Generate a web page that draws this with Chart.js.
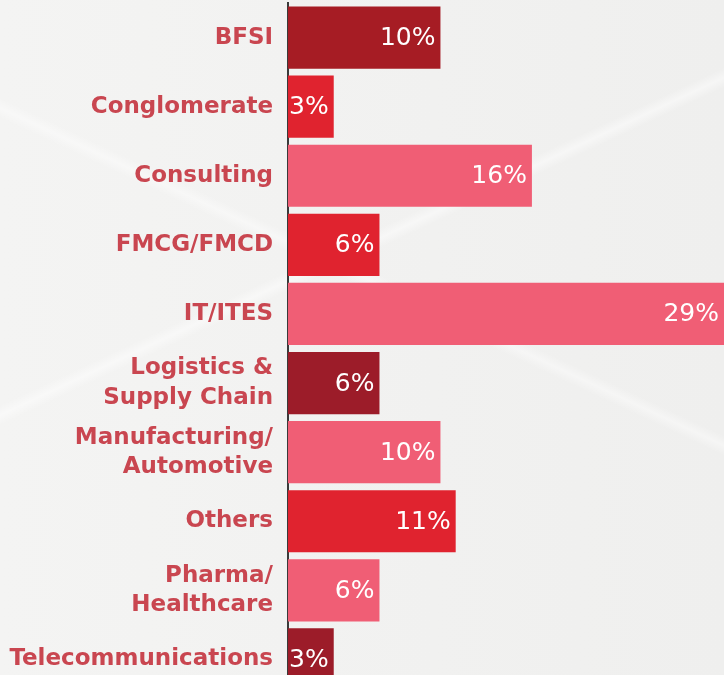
<!DOCTYPE html>
<html>
<head>
<meta charset="utf-8">
<script src="https://cdn.jsdelivr.net/npm/chart.js@4"></script>
<style>
  html, body { margin: 0; padding: 0; overflow: hidden; }
  body {
    width: 724px; height: 675px;
    background:
      linear-gradient(155deg, rgba(255,255,255,0) 40%, rgba(255,255,255,0.45) 41%, rgba(255,255,255,0) 42%),
      linear-gradient(25deg, rgba(255,255,255,0) 55%, rgba(255,255,255,0.4) 56%, rgba(255,255,255,0) 57%),
      linear-gradient(90deg, #f4f4f3 0%, #efefee 100%);
  }
  .wrap { position: relative; width: 724px; height: 694px; }
</style>
</head>
<body>
<div class="wrap"><canvas id="chart"></canvas></div>
<script>
const categories = [
  'BFSI', 'Conglomerate', 'Consulting', 'FMCG/FMCD', 'IT/ITES',
  ['Logistics &', 'Supply Chain'], ['Manufacturing/', 'Automotive'],
  'Others', ['Pharma/', 'Healthcare'], 'Telecommunications'
];
const shares = [10, 3, 16, 6, 29, 6, 10, 11, 6, 3];
const barColors = [
  '#a61c24', '#e0232f', '#f05e75', '#e0232f', '#f05e75',
  '#9c1c29', '#f05e75', '#e0232f', '#f05e75', '#9c1c29'
];

const valueLabels = {
  id: 'valueLabels',
  afterDatasetsDraw(chart) {
    const ctx = chart.ctx;
    const area = chart.chartArea;
    const meta = chart.getDatasetMeta(0);
    ctx.save();
    ctx.fillStyle = '#ffffff';
    ctx.font = '25px "DejaVu Sans", sans-serif';
    ctx.textAlign = 'right';
    ctx.textBaseline = 'middle';
    meta.data.forEach((bar, i) => {
      const x = Math.min(bar.x, area.right) - 5;
      ctx.fillText(shares[i] + '%', x, bar.y + 1);
    });
    ctx.restore();
  }
};

new Chart(document.getElementById('chart'), {
  type: 'bar',
  data: {
    labels: categories,
    datasets: [{
      data: shares,
      backgroundColor: barColors,
      categoryPercentage: 1,
      barPercentage: 0.9
    }]
  },
  options: {
    indexAxis: 'y',
    responsive: true,
    maintainAspectRatio: false,
    animation: false,
    layout: { padding: { top: 3, right: 0, bottom: 0, left: 0 } },
    plugins: {
      legend: { display: false },
      tooltip: { enabled: false }
    },
    scales: {
      x: {
        display: false,
        min: 0,
        max: 28.6
      },
      y: {
        afterFit(scale) {
          scale.width = 288;
          scale.paddingTop = 0;
          scale.paddingBottom = 0;
        },
        grid: { display: false, drawTicks: false },
        border: { display: true, color: '#3a3a3a', width: 2 },
        ticks: {
          color: '#c94650',
          padding: 15,
          font: { family: '"DejaVu Sans", sans-serif', size: 23, weight: 'bold', lineHeight: 1.27 }
        }
      }
    }
  },
  plugins: [valueLabels]
});
</script>
</body>
</html>
